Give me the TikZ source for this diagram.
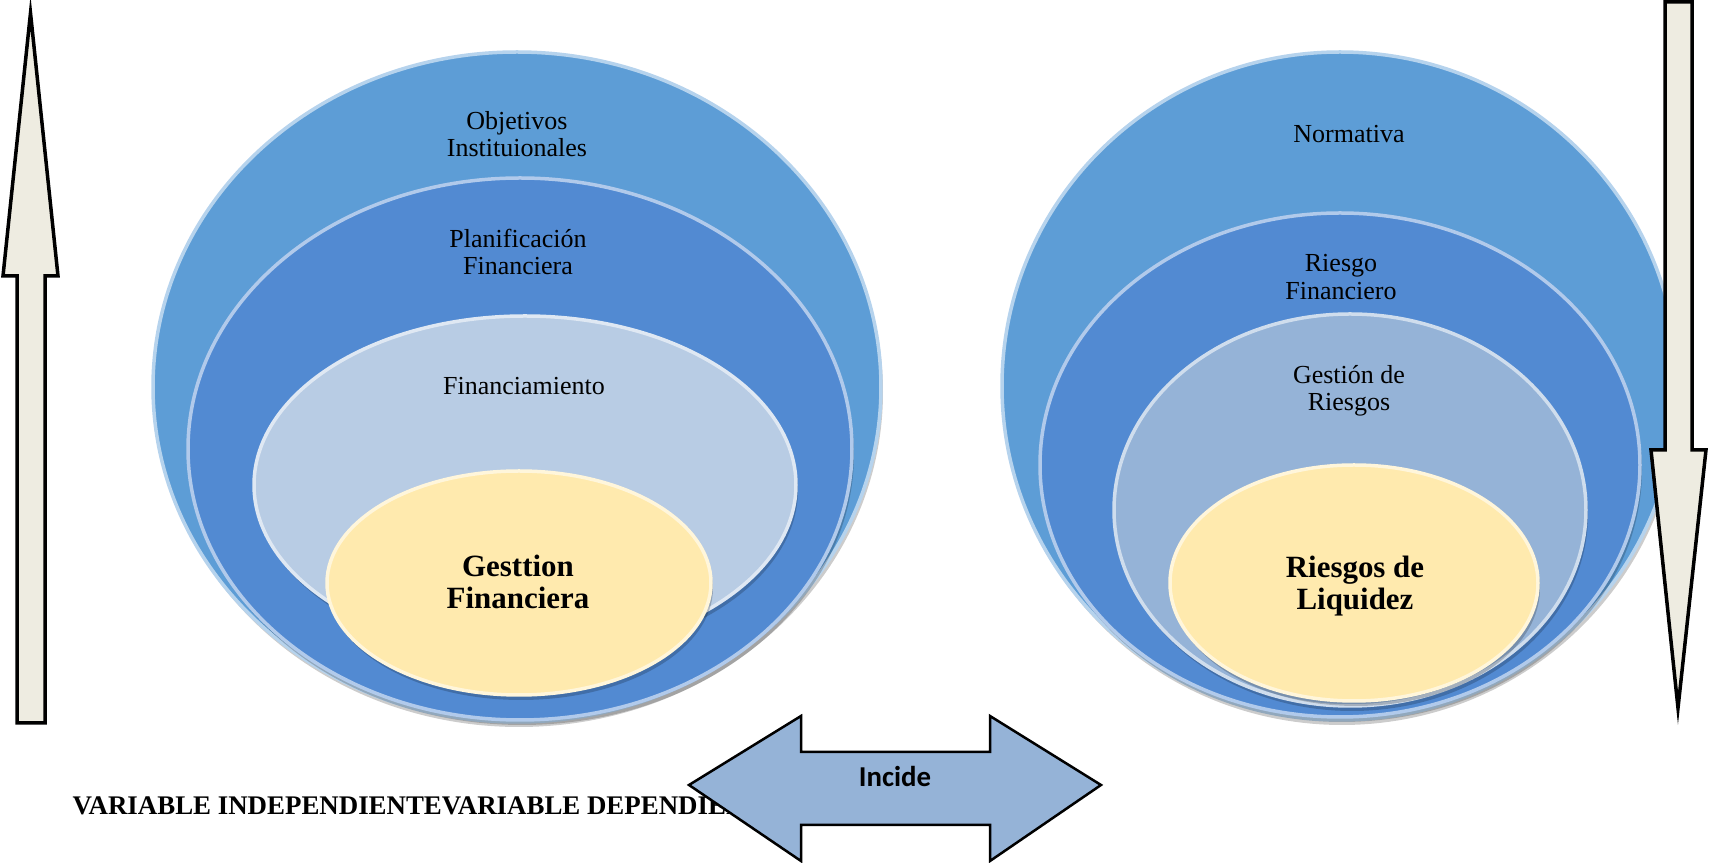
\documentclass[tikz,border=0pt]{standalone}
\usepackage{fontspec}
\setmainfont{Liberation Serif}
\newfontfamily\calibri{Carlito}
\usepackage{xcolor}
\definecolor{outerBlue} {HTML}{5D9DD6}
\definecolor{midBlue}   {HTML}{528AD2}
\definecolor{paleBlue}  {HTML}{B8CCE4}
\definecolor{greyBlue}  {HTML}{95B3D7}
\definecolor{coreBack}  {HTML}{FFEAAE}
\definecolor{arrowBack} {HTML}{EEECE1}
\usetikzlibrary{shapes.geometric, shadows, positioning}
\tikzset{
    bowl/.style={ellipse, inner sep=0pt, fill=#1, draw=#1!45!white,
                 line width=0.35mm,
                 drop shadow={shadow xshift=0.2mm, shadow yshift=-0.5mm,
                              opacity=0.2, fill=black}},
    layertext/.style={align=center, font=\fontsize{7.4}{7.7}\selectfont},
    coretext/.style={align=center, font=\fontsize{8.8}{8.9}\selectfont\bfseries},
    bigarrow/.style={draw=black, line width=0.35mm, fill=arrowBack,
                     line join=miter},
}

\begin{document}
\begin{tikzpicture}[
    x=0.1mm, y=-0.1mm,
    linkarrow/.style={draw=black, line width=0.25mm, fill=greyBlue},
]
\useasboundingbox (0,0) rectangle (1709,863);

% --- LEFT bowl ---
\node[bowl=outerBlue, minimum width=72.8mm, minimum height=67mm] (l-out) at (517,387) {};
\node[bowl=midBlue, minimum width=66.4mm, minimum height=54.2mm] (l-mid) at (520,449) {};
\node[bowl=paleBlue, minimum width=54.2mm, minimum height=33.8mm] (l-in) at (525,485) {};
\node[bowl=coreBack, minimum width=38.4mm, minimum height=22.4mm] (l-core) at (519,583) {};
\node[layertext] (l-out-t) at (517,134) {Objetivos\\Instituionales};
\node[layertext] (l-mid-t) at (518,252) {Planificación\\Financiera};
\node[layertext] (l-in-t) at (524,386) {Financiamiento};
\node[coretext] (l-core-t) at (518,582) {Gesttion\\Financiera};

% --- RIGHT bowl ---
\node[bowl=outerBlue, minimum width=67.6mm, minimum height=66.8mm] (r-out) at (1340,386) {};
\node[bowl=midBlue, minimum width=60mm, minimum height=50.4mm] (r-mid) at (1340,465) {};
\node[bowl=greyBlue, minimum width=47.2mm, minimum height=39.2mm] (r-in) at (1350,510) {};
\node[bowl=coreBack, minimum width=36.8mm, minimum height=23.6mm] (r-core) at (1354,583) {};
\node[layertext] (r-out-t) at (1349,134) {Normativa};
\node[layertext] (r-mid-t) at (1341,277) {Riesgo\\Financiero};
\node[layertext] (r-in-t) at (1349,391) {Gestión de\\Riesgos};
\node[coretext] (r-core-t) at (1355,586) {Riesgos de\\Liquidez};

% --- side arrows ---
\draw[bigarrow] (17,723) -- (17,276) -- (3,276) -- (30.5,13) -- (58,276)
    -- (45,276) -- (45,723) -- cycle;
\draw[bigarrow] (1665,2) -- (1692,2) -- (1692,450) -- (1706,450)
    -- (1678,708) -- (1651,450) -- (1665,450) -- cycle;

% --- bottom caption and link ---
\node[anchor=west, inner sep=0pt, font=\fontsize{7.65}{8}\selectfont\bfseries]
    (vars) at (72,806) {VARIABLE INDEPENDIENTEVARIABLE DEPENDIENTE};
\draw[linkarrow] (689,785) -- (801,716) -- (801,752) -- (990,752) -- (990,716)
    -- (1101,785) -- (990,861) -- (990,825) -- (801,825) -- (801,861) -- cycle;
\node[font=\calibri\bfseries\fontsize{8.2}{9}\selectfont] (incide) at (895,777) {Incide};
\end{tikzpicture}
\end{document}
